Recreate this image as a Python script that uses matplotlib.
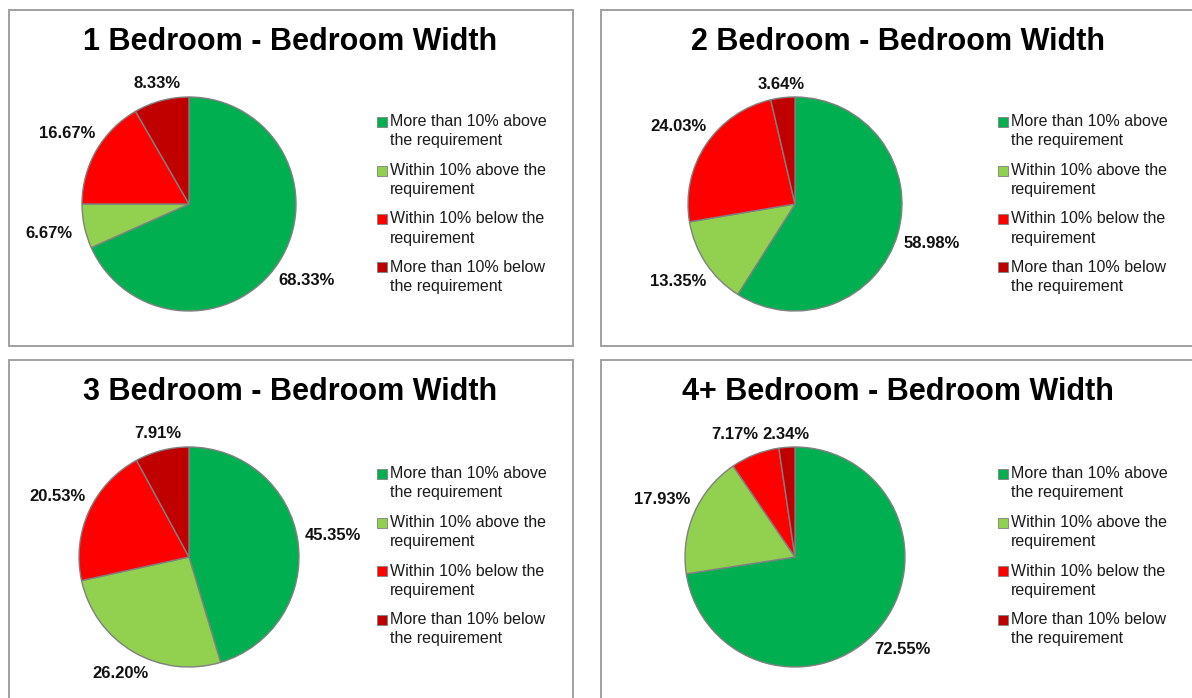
import matplotlib.pyplot as plt
import numpy as np
from matplotlib.patches import Rectangle

W, H = 1192, 698

titles = ["1 Bedroom - Bedroom Width", "2 Bedroom - Bedroom Width",
          "3 Bedroom - Bedroom Width", "4+ Bedroom - Bedroom Width"]
one_bed = [68.33, 6.67, 16.67, 8.33]
two_bed = [58.98, 13.35, 24.03, 3.64]
three_bed = [45.35, 26.20, 20.53, 7.91]
four_bed = [72.55, 17.93, 7.17, 2.34]
categories = ["More than 10% above\nthe requirement",
              "Within 10% above the\nrequirement",
              "Within 10% below the\nrequirement",
              "More than 10% below\nthe requirement"]
colors = ["#00B050", "#92D050", "#FF0000", "#C00000"]

# panel boxes in pixels (left, top, width, height)
panels = [(9, 10, 564, 336), (601, 10, 594, 336),
          (9, 360, 564, 350), (601, 360, 594, 350)]
pies = [(189, 204, 107), (795, 204, 107), (189, 557, 110), (795, 557, 110)]
title_pos = [(290, 42), (898, 42), (290, 392), (898, 392)]
legend_pos = [(377, 122), (998, 122), (377, 474), (998, 474)]

fig = plt.figure(figsize=(W / 100, H / 100), dpi=100)


def fx(x):
    return x / W


def fy(y):
    return 1 - y / H


label_font = ['Liberation Sans Narrow', 'Liberation Sans', 'DejaVu Sans']
main_font = ['Liberation Sans', 'DejaVu Sans']

all_labels = []
for i, vals in enumerate([one_bed, two_bed, three_bed, four_bed]):
    l, t, w, h = panels[i]
    fig.add_artist(Rectangle((fx(l), fy(t + h)), w / W, h / H, transform=fig.transFigure,
                             facecolor='white', edgecolor='#a0a0a0', linewidth=1.4,
                             zorder=-10))
    tx, ty = title_pos[i]
    fig.text(fx(tx), fy(ty), titles[i], ha='center', va='center', fontsize=22,
             fontweight='bold', family=main_font)

    cx, cy, r = pies[i]
    ax = fig.add_axes([fx(cx - r), fy(cy + r), 2 * r / W, 2 * r / H])
    ax.patch.set_visible(False)
    it = iter(vals)
    wedges, _, autotexts = ax.pie(vals, colors=colors, startangle=90, counterclock=False,
                                  wedgeprops=dict(edgecolor='#808080', linewidth=1),
                                  autopct=lambda p, it=it: f"{next(it):.2f}%",
                                  textprops=dict(fontsize=12, fontweight='bold',
                                                 family=label_font, color='#111111'))
    hw, hh = 31 / r, 6 / r
    for wdg, txt in zip(wedges, autotexts):
        mid = np.deg2rad((wdg.theta1 + wdg.theta2) / 2)
        d = 1.04 + hw * abs(np.cos(mid)) + hh * abs(np.sin(mid))
        txt.set_position((d * np.cos(mid), d * np.sin(mid)))
        txt.set_clip_on(False)
    ax.set_xlim(-1, 1)
    ax.set_ylim(-1, 1)
    ax.axis('off')
    all_labels.append((r, autotexts))

    lx, ly = legend_pos[i]
    for k, (lab, col) in enumerate(zip(categories, colors)):
        y0 = ly + k * 48.5
        fig.add_artist(Rectangle((fx(lx), fy(y0 + 5)), 10 / W, 10 / H,
                                 transform=fig.transFigure, facecolor=col,
                                 edgecolor='#808080', linewidth=0.6))
        for j, line in enumerate(lab.split("\n")):
            fig.text(fx(lx + 13), fy(y0 + j * 19), line, ha='left', va='center',
                     fontsize=11.5, family=main_font, color='#1a1a1a')

# push apart neighbouring labels that collide (small slices near the top)
fig.canvas.draw()
rend = fig.canvas.get_renderer()
for r, texts in all_labels:
    for a, b in zip(texts[:-1], texts[1:]):
        ba, bb = a.get_window_extent(rend), b.get_window_extent(rend)
        if ba.y1 > bb.y0 and bb.y1 > ba.y0 and ba.x1 > bb.x0 and bb.x1 > ba.x0:
            shift = (ba.x1 - bb.x0 + 4) / r
            x, y = a.get_position()
            a.set_position((x - shift, y))

fig.savefig('out.png', dpi=100, facecolor='white')
